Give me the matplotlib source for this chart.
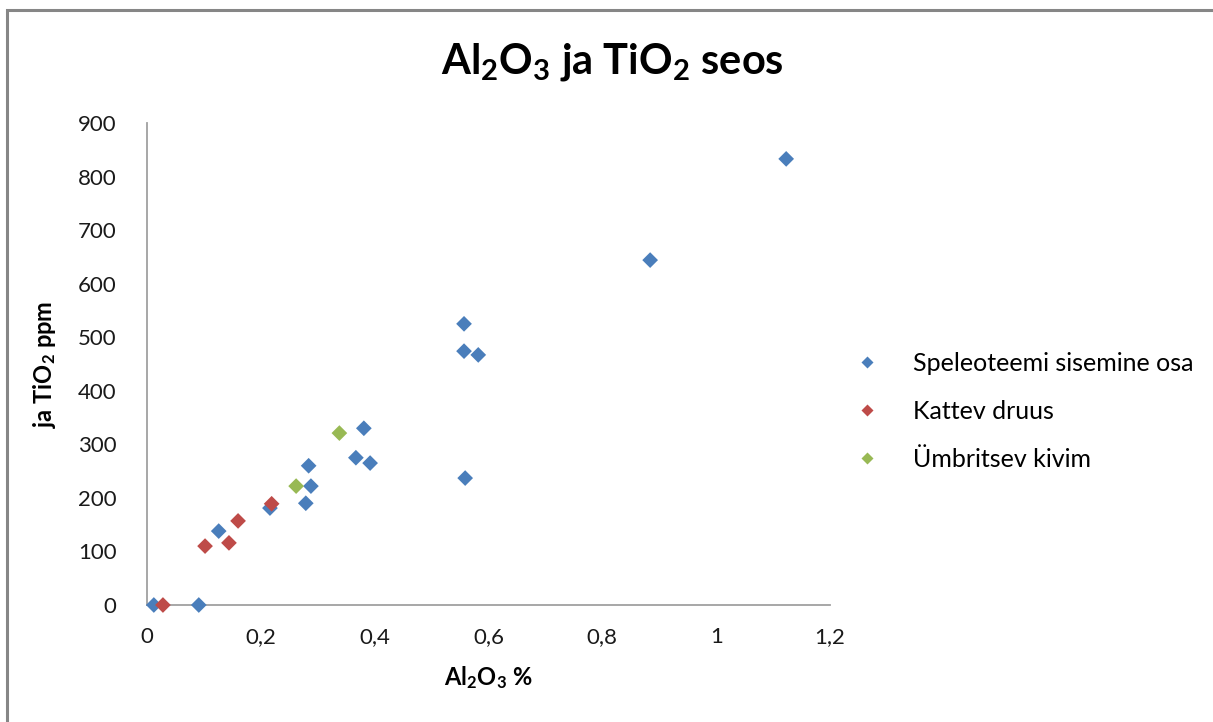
import matplotlib
matplotlib.use("Agg")
import matplotlib.pyplot as plt
from matplotlib.patches import Rectangle
from matplotlib.lines import Line2D

plt.rcParams["font.family"] = ["Lato", "DejaVu Sans"]
plt.rcParams["mathtext.fontset"] = "custom"
plt.rcParams["mathtext.rm"] = "Lato:bold"
plt.rcParams["mathtext.bf"] = "Lato:bold"
plt.rcParams["mathtext.default"] = "rm"

# Data
inner_x = [0.012, 0.091, 0.126, 0.216, 0.279, 0.288, 0.284, 0.367, 0.392, 0.381,
           0.559, 0.557, 0.557, 0.582, 0.884, 1.123]
inner_y = [0, 0, 138, 181, 190, 222, 260, 275, 265, 330,
           237, 525, 474, 467, 644, 833]
druse_x = [0.028, 0.102, 0.144, 0.160, 0.219]
druse_y = [0, 110, 116, 157, 189]
rock_x = [0.262, 0.338]
rock_y = [222, 321]

series_names = ["Speleoteemi sisemine osa", "Kattev druus", "Ümbritsev kivim"]
series_colors = ["#4A7EBB", "#BE4B48", "#98B954"]

x_ticks = [0, 0.2, 0.4, 0.6, 0.8, 1.0, 1.2]
x_tick_labels = ["0", "0,2", "0,4", "0,6", "0,8", "1", "1,2"]
y_ticks = [0, 100, 200, 300, 400, 500, 600, 700, 800, 900]

fig = plt.figure(figsize=(12.13, 7.22), dpi=100)
fig.patch.set_facecolor("white")

# outer chart border (left and top visible)
fig.add_artist(Rectangle((7 / 1213, -0.1), 1.2, 1 - 10 / 722 + 0.1,
                         transform=fig.transFigure, fill=False,
                         edgecolor="#868686", linewidth=2.2))

ax = fig.add_axes([147 / 1213, 1 - 605 / 722, 683 / 1213, 482 / 722])

for xs, ys, name, color in zip([inner_x, druse_x, rock_x], [inner_y, druse_y, rock_y],
                               series_names, series_colors):
    ax.scatter(xs, ys, marker="D", s=64, color=color, edgecolors="none",
               label=name, zorder=3, clip_on=False)

ax.set_xlim(0, 1.2)
ax.set_ylim(0, 900)
ax.set_xticks(x_ticks)
ax.set_xticklabels(x_tick_labels)
ax.set_yticks(y_ticks)
ax.tick_params(axis="both", length=0, labelsize=16, colors="#1A1A1A")
ax.tick_params(axis="x", pad=16)
ax.tick_params(axis="y", pad=22)
for side in ("top", "right"):
    ax.spines[side].set_visible(False)
for side in ("left", "bottom"):
    ax.spines[side].set_color("#A0A0A0")
    ax.spines[side].set_linewidth(1.3)

ax.set_xlabel(r"Al$_2$O$_3$ %", fontsize=17, fontweight="bold", labelpad=12)
ax.set_ylabel(r"ja TiO$_2$ ppm", fontsize=17, fontweight="bold", labelpad=14)

fig.text(612 / 1213, 1 - 62 / 722, r"Al$_2$O$_3$ ja TiO$_2$ seos", ha="center",
         va="center", fontsize=30, fontweight="bold")

handles = [Line2D([], [], marker="D", linestyle="none", markersize=6.5,
                  markerfacecolor=c, markeredgecolor="none") for c in series_colors]
fig.legend(handles, series_names, loc="upper left",
           bbox_to_anchor=(844 / 1213, 1 - 342 / 722), frameon=False,
           fontsize=18, handlelength=1.0, handletextpad=1.34, labelspacing=1.0,
           borderaxespad=0)

fig.savefig("out.png", dpi=100)
